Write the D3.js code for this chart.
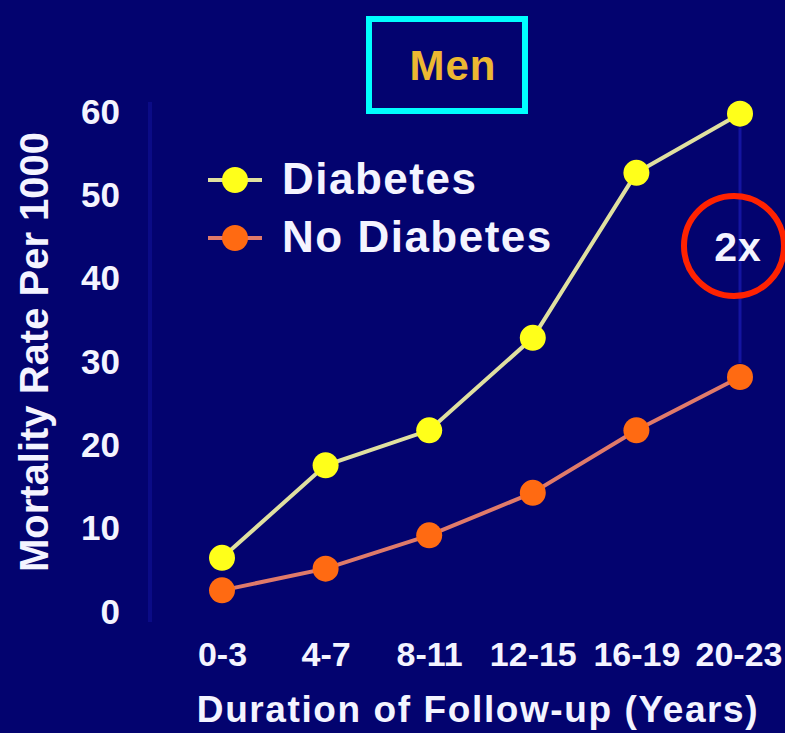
<!DOCTYPE html>
<html>
<head>
<meta charset="utf-8">
<script src="https://cdn.jsdelivr.net/npm/d3@7"></script>
<style>
  html, body { margin: 0; padding: 0; background: #03036f; }
  svg { display: block; }
  text { font-family: "Liberation Sans", Arial, sans-serif; font-weight: bold; }
</style>
</head>
<body>
<svg id="chart" width="785" height="733"></svg>
<script>
// Follow-up periods (years) and mortality rates per 1000
const periods = ["0-3", "4-7", "8-11", "12-15", "16-19", "20-23"];
const diabetes = [6.5, 17.6, 21.8, 32.9, 52.7, 59.8];
const noDiabetes = [2.6, 5.2, 9.2, 14.3, 21.8, 28.2];
const yTicks = [0, 10, 20, 30, 40, 50, 60];
const seriesNames = ["Diabetes", "No Diabetes"];
const seriesColors = ["#ffff1a", "#ff6a12"];
const lineColors = ["#e0e0a0", "#e07a6a"];

const svg = d3.select("#chart");
const W = 785, H = 733;
const font = "'Liberation Sans', Arial, sans-serif";

svg.append("rect").attr("width", W).attr("height", H).attr("fill", "#03036f");

const x = d3.scalePoint().domain(periods).range([222, 740]);
const y = d3.scaleLinear().domain([0, 60]).range([612, 112]);

// faint axis line
svg.append("line")
  .attr("x1", 150).attr("x2", 150)
  .attr("y1", y(60) - 10).attr("y2", y(0) + 10)
  .attr("stroke", "#0b0b86").attr("stroke-width", 4);

// Y axis tick labels
const yAxis = d3.axisLeft(y).tickValues(yTicks).tickSize(0).tickPadding(0);
const gy = svg.append("g").attr("transform", "translate(120,0)").call(yAxis);
gy.select(".domain").remove();
gy.selectAll("text")
  .attr("fill", "#f4f4ff")
  .style("font-size", "35px")
  .style("font-family", font)
  .style("font-weight", "bold");

// X axis tick labels
const xAxis = d3.axisBottom(x).tickSize(0).tickPadding(0);
const gx = svg.append("g").attr("transform", "translate(0,642)").call(xAxis);
gx.select(".domain").remove();
gx.selectAll("text")
  .attr("fill", "#f4f4ff")
  .style("font-size", "34px")
  .style("font-family", font)
  .style("font-weight", "bold");
// keep the last label inside the right edge
gx.selectAll(".tick").filter(d => d === periods[periods.length - 1])
  .select("text").attr("text-anchor", "end").attr("x", 42);

// Axis titles
svg.append("text")
  .attr("transform", "translate(48,352) rotate(-90)")
  .attr("text-anchor", "middle")
  .attr("fill", "#f4f4ff")
  .style("font-size", "40px")
  .text("Mortality Rate Per 1000");

svg.append("text")
  .attr("x", 478).attr("y", 722)
  .attr("text-anchor", "middle")
  .attr("fill", "#f4f4ff")
  .style("font-size", "37px")
  .style("letter-spacing", "1.6px")
  .text("Duration of Follow-up (Years)");

// Title in a cyan box
svg.append("rect")
  .attr("x", 369).attr("y", 19).attr("width", 156).attr("height", 92)
  .attr("fill", "none").attr("stroke", "#00ffff").attr("stroke-width", 6);
svg.append("text")
  .attr("x", 453).attr("y", 80)
  .attr("text-anchor", "middle")
  .attr("fill", "#ecb832")
  .style("font-size", "42px")
  .style("letter-spacing", "1px")
  .text("Men");

// faint gap marker at the last period
const last = periods[periods.length - 1];
svg.append("line")
  .attr("x1", x(last)).attr("x2", x(last))
  .attr("y1", y(diabetes[diabetes.length - 1]) + 14)
  .attr("y2", y(noDiabetes[noDiabetes.length - 1]) - 14)
  .attr("stroke", "#1414a0").attr("stroke-width", 3);

// Series lines and markers
const allSeries = [diabetes, noDiabetes];
const line = d3.line().x((d, i) => x(periods[i])).y(d => y(d));

allSeries.forEach((vals, s) => {
  svg.append("path")
    .attr("d", line(vals))
    .attr("fill", "none")
    .attr("stroke", lineColors[s])
    .attr("stroke-width", 4);
  svg.selectAll(null)
    .data(vals)
    .enter()
    .append("circle")
    .attr("cx", (d, i) => x(periods[i]))
    .attr("cy", d => y(d))
    .attr("r", 13)
    .attr("fill", seriesColors[s]);
});

// Legend
const legendY = [180, 238];
seriesNames.forEach((name, s) => {
  const g = svg.append("g").attr("transform", `translate(0,${legendY[s]})`);
  g.append("line")
    .attr("x1", 208).attr("x2", 262).attr("y1", 0).attr("y2", 0)
    .attr("stroke", lineColors[s]).attr("stroke-width", 4);
  g.append("circle").attr("cx", 235).attr("cy", 0).attr("r", 13)
    .attr("fill", seriesColors[s]);
  g.append("text")
    .attr("x", 282).attr("y", 14)
    .attr("fill", "#f4f4ff")
    .style("font-size", "44px")
    .style("letter-spacing", "1.5px")
    .text(name);
});

// Ratio annotation
svg.append("circle")
  .attr("cx", 734).attr("cy", 246).attr("r", 50)
  .attr("fill", "none").attr("stroke", "#ff2200").attr("stroke-width", 6);
svg.append("text")
  .attr("x", 738).attr("y", 261)
  .attr("text-anchor", "middle")
  .attr("fill", "#f4f4ff")
  .style("font-size", "41px")
  .style("letter-spacing", "1px")
  .text("2x");
</script>
</body>
</html>
